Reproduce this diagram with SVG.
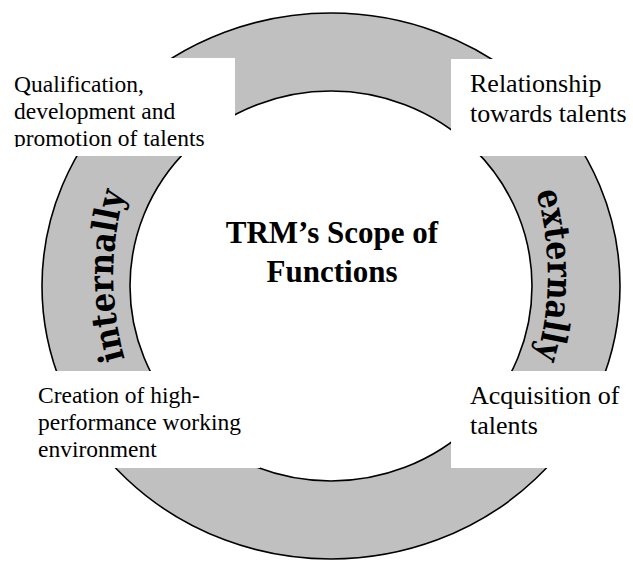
<svg xmlns="http://www.w3.org/2000/svg" width="633" height="563" viewBox="0 0 633 563">
  <style>
    .ring { fill: #c0c0c0; stroke: #000; stroke-width: 1.6; fill-rule: evenodd; }
    .box { fill: #fff; stroke: none; }
    .lbl-s { font-family: "Liberation Serif", "Times New Roman", serif; font-size: 23.5px; fill: #000; }
    .lbl-l { font-family: "Liberation Serif", "Times New Roman", serif; font-size: 26px; fill: #000; }
    .title { font-family: "Liberation Serif", "Times New Roman", serif; font-size: 31px; font-weight: bold; fill: #000; text-anchor: middle; }
    .arc-txt { font-family: "DejaVu Serif", "Liberation Serif", serif; font-size: 35px; font-weight: bold; fill: #000; }
  </style>
  <defs>
    <!-- baselines for the words written along the ring -->
    <path id="arcLeft" d="M 127,366 A 302,302 0 0,1 127,186"/>
    <path id="arcRight" d="M 534,185 A 302,302 0 0,1 534,365"/>
    <clipPath id="clipTL">
      <rect x="6" y="58" width="229" height="89"/>
    </clipPath>
  </defs>

  <rect width="633" height="563" fill="#fff"/>

  <!-- grey cycle band -->
  <g id="connectors">
    <g id="cycle">
      <path class="ring" d="M 42,286 A 289,273 0 1,0 620,286 A 289,273 0 1,0 42,286 Z M 130,286 A 201,195 0 1,0 532,286 A 201,195 0 1,0 130,286 Z"/>
      <text class="arc-txt"><textPath href="#arcLeft" startOffset="50%" text-anchor="middle" textLength="168" lengthAdjust="spacingAndGlyphs">internally</textPath></text>
      <text class="arc-txt"><textPath href="#arcRight" startOffset="50%" text-anchor="middle" textLength="168" lengthAdjust="spacingAndGlyphs">externally</textPath></text>
    </g>
  </g>

  <!-- centre title -->
  <g id="title">
    <text class="title" x="332" y="243">TRM’s Scope of</text>
    <text class="title" x="332" y="282">Functions</text>
  </g>

  <!-- corner labels -->
  <g id="qualification">
    <rect class="box" x="6" y="58" width="229" height="98"/>
    <g clip-path="url(#clipTL)">
      <text class="lbl-s" x="14" y="92">Qualification,</text>
      <text class="lbl-s" x="14" y="119">development and</text>
      <text class="lbl-s" x="14" y="146">promotion of talents</text>
    </g>
  </g>

  <g id="relationship">
    <rect class="box" x="451" y="59" width="182" height="97"/>
    <text class="lbl-l" x="470" y="92">Relationship</text>
    <text class="lbl-l" x="470" y="122">towards talents</text>
  </g>

  <g id="environment">
    <rect class="box" x="30" y="371" width="230" height="97"/>
    <text class="lbl-s" x="38" y="403">Creation of high-</text>
    <text class="lbl-s" x="38" y="430">performance working</text>
    <text class="lbl-s" x="38" y="457">environment</text>
  </g>

  <g id="acquisition">
    <rect class="box" x="451" y="371" width="182" height="97"/>
    <text class="lbl-l" x="470" y="404">Acquisition of</text>
    <text class="lbl-l" x="470" y="434">talents</text>
  </g>
</svg>
